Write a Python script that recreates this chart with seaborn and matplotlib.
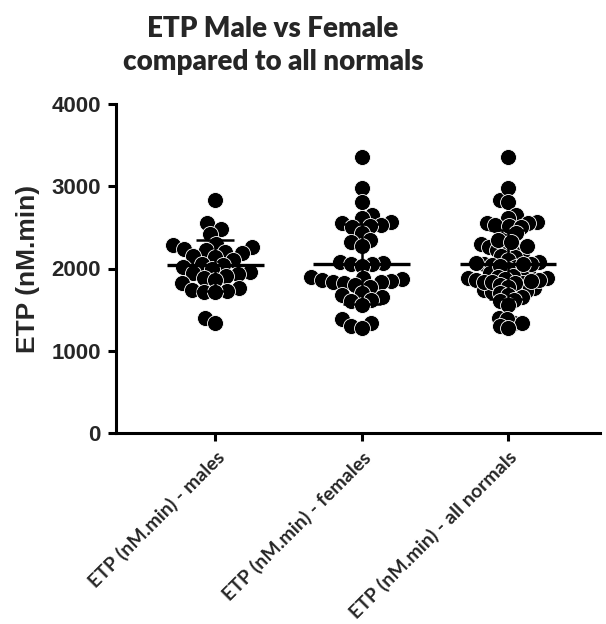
import numpy as np
import pandas as pd
import matplotlib
matplotlib.use("Agg")
import matplotlib.pyplot as plt
import seaborn as sns

# ETP values (nM.min)
males = [2830, 2550, 2480, 2420, 2300, 2280, 2260, 2240, 2230, 2200, 2190,
         2150, 2140, 2100, 2060, 2040, 2020, 1990, 1960, 1940, 1930, 1910,
         1890, 1860, 1820, 1760, 1740, 1730, 1720, 1710, 1400, 1340]
females = [3360, 2980, 2810, 2650, 2620, 2560, 2550, 2530, 2520, 2500, 2430,
           2350, 2320, 2270, 2080, 2070, 2060, 2050, 2030, 1900, 1880, 1870,
           1860, 1850, 1840, 1830, 1820, 1800, 1780, 1700, 1680, 1650, 1620,
           1600, 1560, 1380, 1340, 1300, 1280]
all_normals = males + females

groups = ["ETP (nM.min) - males", "ETP (nM.min) - females",
          "ETP (nM.min) - all normals"]
yticks = [0, 1000, 2000, 3000, 4000]

series = [males, females, all_normals]
df = pd.DataFrame({
    "group": np.repeat(groups, [len(s) for s in series]),
    "etp": np.concatenate(series),
})

sns.set_style("white")
fig = plt.figure(figsize=(6.06, 6.24), dpi=100)
ax = fig.add_axes([116 / 606, 1 - 433 / 624, (600 - 116) / 606, (433 - 104) / 624])

sns.swarmplot(data=df, x="group", y="etp", order=groups, color="black",
              size=7.5, linewidth=0.6, edgecolor="white", ax=ax, zorder=2)
ax.set_xlim(-0.68, 2.63)
ax.set_ylim(0, 4000)

# lay each swarm out with a compact marker, then draw the dots larger so they overlap
layout_sizes = [7.5, 7.0, 5.0]
for coll, s in zip(ax.collections, layout_sizes):
    coll.set_sizes([s ** 2])
fig.canvas.draw()
for coll in ax.collections:
    if "draw" in coll.__dict__:
        del coll.draw
    coll.set_sizes([11.5 ** 2])

# mean line with SD whiskers
for i, vals in enumerate(series):
    m = np.mean(vals)
    sd = np.std(vals, ddof=1)
    ax.hlines(m, i - 0.33, i + 0.33, color="black", lw=2.4, zorder=3)
    ax.vlines(i, m - sd, m + sd, color="black", lw=1.8, zorder=3)
    ax.hlines([m - sd, m + sd], i - 0.13, i + 0.13, color="black", lw=1.8, zorder=3)

ax.set_yticks(yticks)
ax.set_yticklabels([str(t) for t in yticks], fontsize=16, fontweight="bold",
                   family="Liberation Sans")
ax.set_xticks(range(len(groups)))
ax.set_xticklabels(groups, rotation=45, ha="right", va="top",
                   rotation_mode="anchor", fontsize=14, fontweight="bold",
                   family="Lato")
ax.set_xlabel("")
ax.set_ylabel("ETP (nM.min)", fontsize=19, fontweight="bold",
              family="Liberation Sans", labelpad=8)

for side in ["top", "right"]:
    ax.spines[side].set_visible(False)
for side in ["left", "bottom"]:
    ax.spines[side].set_linewidth(2.2)
    ax.spines[side].set_color("black")
ax.tick_params(axis="both", direction="out", length=6, width=2.2, color="black",
               pad=5, left=True, bottom=True)

fig.text(273 / 606, 1 - 16 / 624, "ETP Male vs Female\ncompared to all normals",
         ha="center", va="top", fontsize=20, fontweight="heavy", family="Lato",
         linespacing=1.35)

fig.savefig("out.png", dpi=100)
